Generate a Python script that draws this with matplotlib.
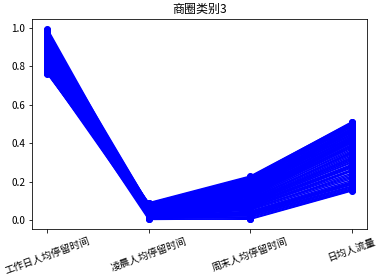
import matplotlib
matplotlib.use("Agg")
import matplotlib.pyplot as plt

plt.rcParams['font.family'] = ['Noto Sans CJK SC', 'DejaVu Sans']
plt.rcParams['axes.unicode_minus'] = False

categories = ['工作日人均停留时间', '凌晨人均停留时间', '周末人均停留时间', '日均人流量']
title = '商圈类别3'

work = [0.998, 0.972, 0.955, 0.941, 0.928, 0.917, 0.903, 0.894, 0.882, 0.871,
        0.866, 0.858, 0.846, 0.839, 0.827, 0.818, 0.806, 0.797, 0.785, 0.772,
        0.763, 0.987, 0.963, 0.948, 0.935, 0.921, 0.911, 0.899, 0.887, 0.876,
        0.862, 0.851, 0.843, 0.831, 0.822, 0.812, 0.801, 0.791, 0.779, 0.768,
        0.982, 0.958, 0.944, 0.931, 0.914, 0.907, 0.891, 0.879, 0.869, 0.855,
        0.848, 0.836, 0.824, 0.815, 0.803, 0.794, 0.782, 0.775, 0.766, 0.993,
        0.976, 0.951, 0.938, 0.925, 0.909, 0.896, 0.884, 0.873, 0.861, 0.853,
        0.841, 0.829, 0.819, 0.808, 0.799, 0.788, 0.777, 0.769, 0.948, 0.902]

morning = [0.052, 0.031, 0.068, 0.014, 0.083, 0.047, 0.022, 0.061, 0.038, 0.075,
           0.009, 0.056, 0.028, 0.071, 0.043, 0.017, 0.089, 0.035, 0.064, 0.025,
           0.049, 0.012, 0.078, 0.033, 0.058, 0.004, 0.066, 0.041, 0.019, 0.086,
           0.054, 0.027, 0.072, 0.037, 0.046, 0.011, 0.062, 0.029, 0.081, 0.051,
           0.024, 0.069, 0.039, 0.007, 0.057, 0.033, 0.076, 0.015, 0.048, 0.063,
           0.021, 0.085, 0.044, 0.031, 0.059, 0.002, 0.067, 0.036, 0.053, 0.018,
           0.079, 0.042, 0.026, 0.065, 0.008, 0.055, 0.034, 0.073, 0.045, 0.013,
           0.061, 0.029, 0.082, 0.039, 0.051, 0.023, 0.069, 0.016, 0.047, 0.037]

weekend = [0.142, 0.087, 0.196, 0.034, 0.215, 0.118, 0.063, 0.171, 0.101, 0.208,
           0.012, 0.156, 0.074, 0.189, 0.127, 0.045, 0.228, 0.095, 0.163, 0.058,
           0.134, 0.021, 0.201, 0.082, 0.148, 0.003, 0.177, 0.109, 0.051, 0.219,
           0.152, 0.069, 0.192, 0.091, 0.121, 0.028, 0.166, 0.077, 0.211, 0.138,
           0.061, 0.183, 0.104, 0.016, 0.158, 0.085, 0.204, 0.039, 0.131, 0.173,
           0.054, 0.224, 0.114, 0.079, 0.161, 0.006, 0.186, 0.097, 0.145, 0.042,
           0.212, 0.111, 0.066, 0.179, 0.024, 0.149, 0.089, 0.198, 0.124, 0.031,
           0.168, 0.072, 0.217, 0.106, 0.139, 0.057, 0.187, 0.036, 0.129, 0.098]

flow = [0.412, 0.298, 0.487, 0.186, 0.503, 0.361, 0.243, 0.455, 0.334, 0.496,
        0.158, 0.428, 0.271, 0.471, 0.389, 0.205, 0.508, 0.317, 0.442, 0.228,
        0.401, 0.167, 0.489, 0.289, 0.419, 0.151, 0.462, 0.347, 0.214, 0.501,
        0.433, 0.262, 0.478, 0.309, 0.376, 0.176, 0.447, 0.281, 0.494, 0.408,
        0.253, 0.466, 0.355, 0.162, 0.437, 0.302, 0.491, 0.195, 0.394, 0.458,
        0.236, 0.511, 0.369, 0.284, 0.425, 0.154, 0.474, 0.327, 0.416, 0.198,
        0.498, 0.352, 0.257, 0.464, 0.172, 0.421, 0.311, 0.483, 0.381, 0.183,
        0.449, 0.276, 0.505, 0.341, 0.403, 0.221, 0.469, 0.191, 0.386, 0.322]

fig = plt.figure(figsize=(391/72, 280/72), dpi=72)
ax = fig.add_axes([32/391, 51/280, 335/391, 210/280])

xs = list(range(len(categories)))
for a, b, c, d in zip(work, morning, weekend, flow):
    ax.plot(xs, [a, b, c, d], 'o-', color='blue', linewidth=1.5, markersize=6)

ax.set_xticks(xs)
ax.set_xticklabels(categories, rotation=20)
ax.set_title(title)
fig.savefig('out.png', dpi=72)
